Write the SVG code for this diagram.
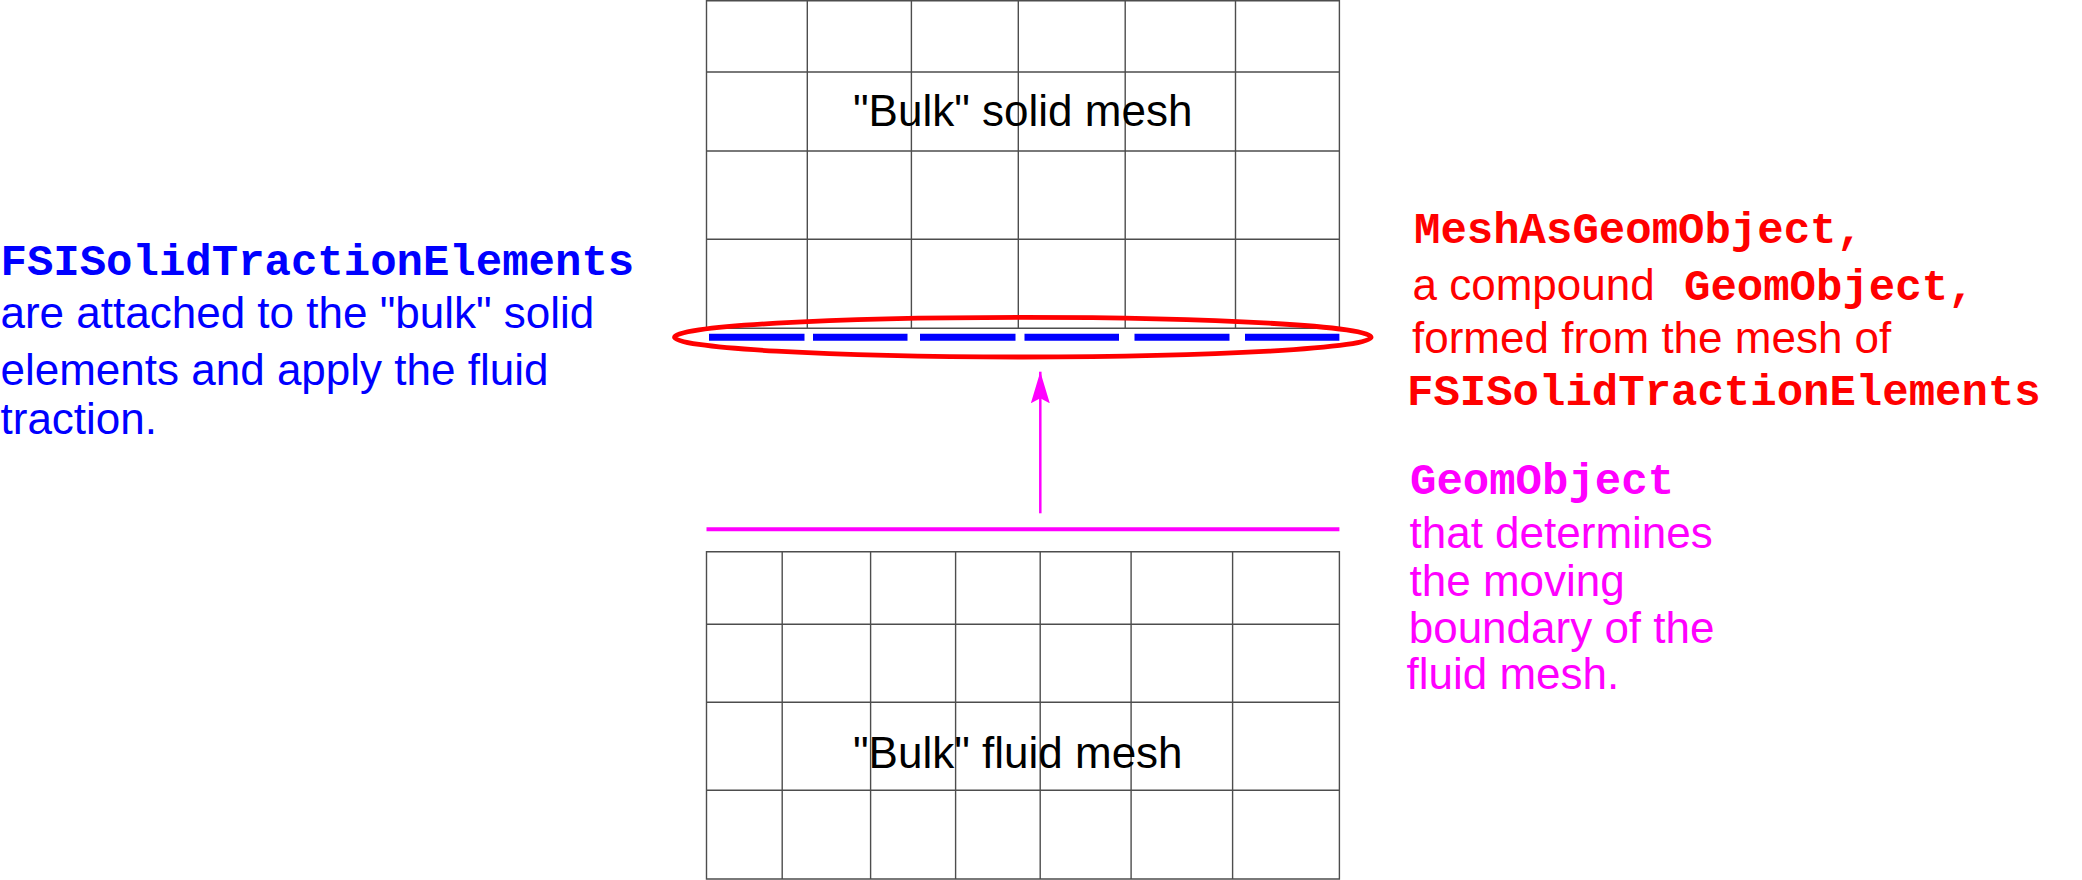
<svg xmlns="http://www.w3.org/2000/svg" width="2082" height="880" viewBox="0 0 2082 880">
<style>
.grid{fill:none;stroke:#4d4d4d;stroke-width:1.4}
.sans{font-family:"Liberation Sans",Arial,Helvetica,sans-serif;font-size:44px}
.mono{font-family:"Liberation Mono","Courier New",monospace;font-size:44px;font-weight:bold}
.blue{fill:#0000ff}
.red{fill:#ff0000}
.mag{fill:#ff00ff}
.black{fill:#000000}
.dash{stroke:#0000ff;stroke-width:7;fill:none}
</style>
<defs>
<marker id="arrowhead" markerUnits="userSpaceOnUse" markerWidth="32" markerHeight="19" refX="31.6" refY="9.5" orient="auto" viewBox="0 0 32 19">
<path d="M0,0 L31.6,9.5 L0,19 L5,9.5 Z" fill="#ff00ff"/>
</marker>
</defs>
<rect width="2082" height="880" fill="#ffffff"/>

<g id="solid-mesh">
<path class="grid" d="M706.5,0.7 H1339.4 V328.3 H706.5 Z M706.5,72 H1339.4 M706.5,151 H1339.4 M706.5,239.3 H1339.4 M807.3,0.7 V328.3 M911.4,0.7 V328.3 M1018.3,0.7 V328.3 M1125.2,0.7 V328.3 M1235.5,0.7 V328.3"/>
<text class="sans black" x="853" y="126">"Bulk" solid mesh</text>
</g>

<g id="fluid-mesh">
<path class="grid" d="M706.5,551.7 H1339.4 V879 H706.5 Z M706.5,624.3 H1339.4 M706.5,702.3 H1339.4 M706.5,790.3 H1339.4 M782.2,551.7 V879 M870.6,551.7 V879 M955.6,551.7 V879 M1040.2,551.7 V879 M1131.1,551.7 V879 M1232.6,551.7 V879"/>
<text class="sans black" x="853" y="768">"Bulk" fluid mesh</text>
</g>

<g id="traction-elements">
<path class="dash" d="M709,337.2 H804.5 M813,337.2 H907.5 M920,337.2 H1015.5 M1024.5,337.2 H1119 M1134.5,337.2 H1229.5 M1245,337.2 H1339.4"/>
</g>

<g id="mesh-as-geom-object">
<ellipse cx="1022.8" cy="337.2" rx="348.3" ry="19.8" fill="none" stroke="#ff0000" stroke-width="4.8"/>
</g>

<g id="fluid-boundary">
<line x1="706.5" y1="529.3" x2="1339.4" y2="529.3" stroke="#ff00ff" stroke-width="4"/>
</g>

<g id="connectors">
<line x1="1040.3" y1="513.3" x2="1040.3" y2="371.7" stroke="#ff00ff" stroke-width="2.5" marker-end="url(#arrowhead)"/>
</g>

<g id="label-solid-traction">
<text class="mono blue" x="0.5" y="274.5">FSISolidTractionElements</text>
<text class="sans blue" x="0.5" y="328.3">are attached to the "bulk" solid</text>
<text class="sans blue" x="0.5" y="385">elements and apply the fluid</text>
<text class="sans blue" x="0.5" y="434">traction.</text>
</g>

<g id="label-mesh-as-geom">
<text class="mono red" x="1414" y="242.7">MeshAsGeomObject,</text>
<text class="sans red" x="1412.5" y="300">a compound <tspan class="mono" x="1684">GeomObject,</tspan></text>
<text class="sans red" x="1412" y="353.3">formed from the mesh of</text>
<text class="mono red" x="1407" y="405">FSISolidTractionElements</text>
</g>

<g id="label-geom-object">
<text class="mono mag" x="1410" y="494">GeomObject</text>
<text class="sans mag" x="1409.5" y="547.5">that determines</text>
<text class="sans mag" x="1409.5" y="595.7">the moving</text>
<text class="sans mag" x="1408.7" y="642.5">boundary of the</text>
<text class="sans mag" x="1406.5" y="689.3">fluid mesh.</text>
</g>
</svg>
